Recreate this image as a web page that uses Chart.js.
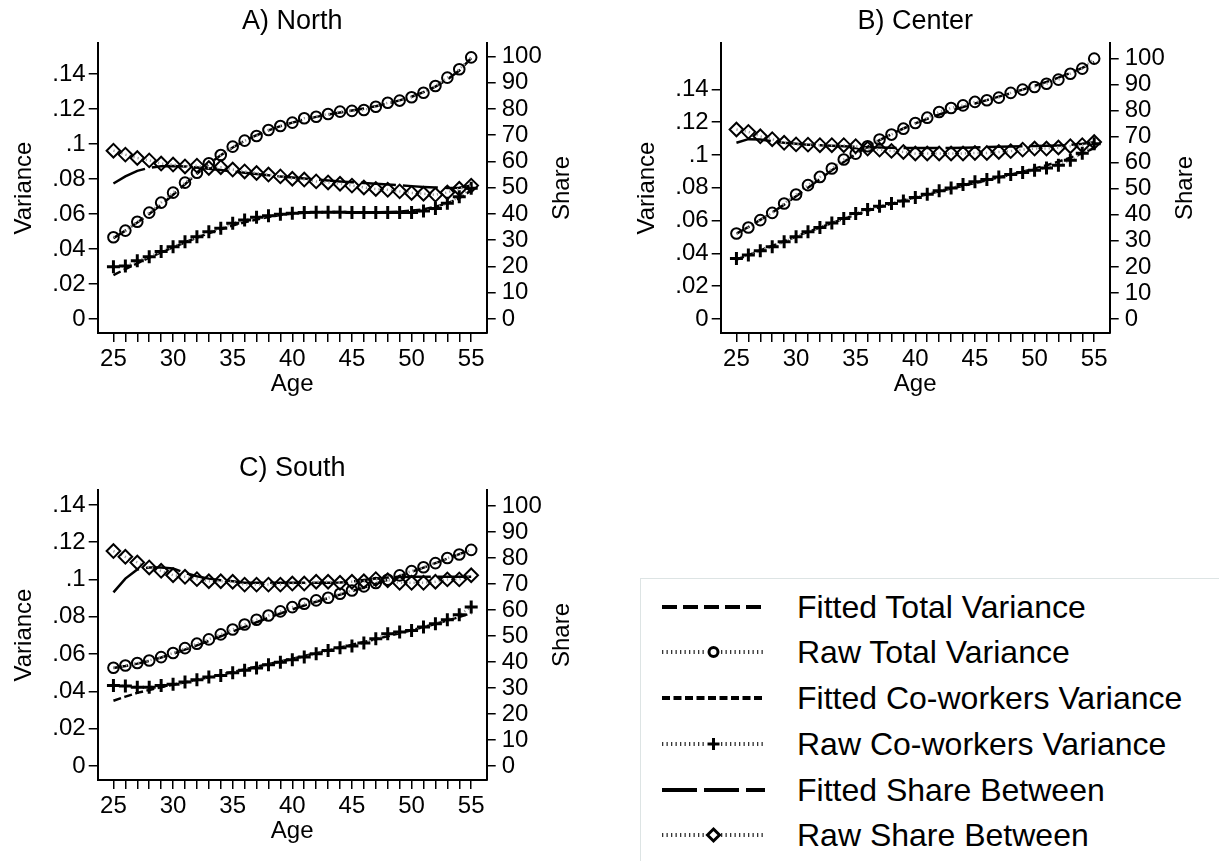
<!DOCTYPE html>
<html>
<head>
<meta charset="utf-8">
<title>Variance and share between, by age and region</title>
<script src="https://cdn.jsdelivr.net/npm/chart.js@4.4.1/dist/chart.umd.min.js"></script>
<style>
  html, body { margin: 0; padding: 0; background: #fff; }
  body { width: 1219px; height: 861px; position: relative; overflow: hidden; font-family: "Liberation Sans", Arial, sans-serif; }
  canvas.panel { position: absolute; }
  #legend { position: absolute; left: 640px; top: 578px; width: 620px; height: 320px; border: 1px solid #dde4e4; box-sizing: border-box; }
  .legend-row { position: absolute; left: 0; width: 600px; height: 40px; }
  .legend-row canvas { position: absolute; left: 21px; top: 0; }
  .legend-row span { position: absolute; left: 156px; top: 0; line-height: 40px; font-size: 32px; color: #000; white-space: nowrap; }
</style>
</head>
<body>
<canvas id="north" class="panel" width="580" height="400" style="left:0px;top:0px"></canvas>
<canvas id="center" class="panel" width="580" height="400" style="left:623px;top:0px"></canvas>
<canvas id="south" class="panel" width="580" height="400" style="left:0px;top:447px"></canvas>
<div id="legend"></div>

<script>
// x categories and tick labels
const ages = [25, 26, 27, 28, 29, 30, 31, 32, 33, 34, 35, 36, 37, 38, 39, 40,
              41, 42, 43, 44, 45, 46, 47, 48, 49, 50, 51, 52, 53, 54, 55];
const ageLabels = [25, 30, 35, 40, 45, 50, 55];
const varianceTicks = [0, 0.02, 0.04, 0.06, 0.08, 0.1, 0.12, 0.14];
const shareTicks = [0, 10, 20, 30, 40, 50, 60, 70, 80, 90, 100];

const legendLabels = ['Fitted Total Variance', 'Raw Total Variance', 'Fitted Co-workers Variance',
                      'Raw Co-workers Variance', 'Fitted Share Between', 'Raw Share Between'];

// A) North
const northRawTotal = [.0467, .0505, .0556, .0608, .0665, .0722, .0779, .0836, .0890, .0937,
                       .0985, .1019, .1046, .1080, .1103, .1122, .1147, .1156, .1171, .1185,
                       .1189, .1194, .1213, .1236, .1248, .1267, .1293, .1331, .1379, .1427, .1495];
const northFitTotal = [.0462, .0505, .0551, .0600, .0652, .0710, .0770, .0830, .0886, .0936,
                       .0980, .1018, .1050, .1078, .1102, .1122, .1140, .1155, .1168, .1180,
                       .1191, .1203, .1216, .1231, .1249, .1270, .1296, .1328, .1368, .1420, .1490];
const northRawCow = [.0299, .0303, .0333, .0356, .0385, .0413, .0442, .0470, .0499, .0518,
                     .0547, .0566, .0581, .0590, .0598, .0604, .0608, .0610, .0610, .0610,
                     .0608, .0608, .0608, .0608, .0608, .0608, .0617, .0632, .0661, .0699, .0747];
const northFitCow = [.0251, .0285, .0318, .0350, .0381, .0410, .0438, .0465, .0490, .0513,
                     .0534, .0553, .0569, .0583, .0594, .0602, .0607, .0610, .0611, .0611,
                     .0610, .0610, .0610, .0611, .0614, .0619, .0627, .0641, .0661, .0690, .0735];
const northRawShare = [64.1, 62.6, 61.3, 60.4, 59.2, 58.8, 58.1, 58.4, 57.5, 57.8,
                       56.9, 56.2, 55.6, 55.0, 54.3, 53.4, 53.1, 52.4, 52.0, 51.5,
                       50.8, 50.1, 49.5, 49.2, 48.6, 48.0, 47.7, 47.3, 48.2, 49.6, 50.8];
const northFitShare = [51.6, 54.3, 56.4, 57.6, 58.2, 58.3, 58.1, 57.7, 57.2, 56.7,
                       56.2, 55.7, 55.2, 54.7, 54.3, 53.9, 53.5, 53.1, 52.7, 52.4,
                       52.1, 51.8, 51.5, 51.2, 50.9, 50.6, 50.3, 50.1, 49.9, 50.0, 50.8];

// B) Center
const centerRawTotal = [.0521, .0558, .0603, .0647, .0704, .0759, .0816, .0866, .0917, .0972,
                        .1008, .1053, .1094, .1124, .1160, .1195, .1227, .1262, .1286, .1302,
                        .1323, .1333, .1349, .1378, .1398, .1414, .1434, .1459, .1495, .1526, .1587];
const centerFitTotal = [.0520, .0561, .0604, .0649, .0697, .0748, .0800, .0853, .0906, .0957,
                        .1005, .1049, .1090, .1127, .1161, .1192, .1220, .1246, .1270, .1292,
                        .1313, .1334, .1355, .1376, .1398, .1421, .1445, .1471, .1499, .1530, .1565];
const centerRawCow = [.0369, .0390, .0416, .0440, .0471, .0501, .0532, .0558, .0586, .0613,
                      .0643, .0667, .0688, .0704, .0720, .0741, .0761, .0781, .0799, .0820,
                      .0836, .0850, .0866, .0881, .0893, .0907, .0921, .0937, .0968, .1010, .1068];
const centerFitCow = [.0362, .0390, .0418, .0446, .0474, .0503, .0531, .0558, .0585, .0611,
                      .0636, .0660, .0682, .0703, .0723, .0742, .0760, .0778, .0795, .0812,
                      .0829, .0846, .0863, .0880, .0898, .0917, .0937, .0959, .0983, .1010, .1042];
const centerRawShare = [72.7, 71.8, 70.1, 69.0, 67.6, 67.0, 66.9, 66.7, 66.7, 66.7,
                        66.3, 65.4, 65.0, 64.5, 64.1, 63.5, 63.5, 63.5, 63.5, 63.5,
                        63.7, 63.7, 64.1, 64.4, 65.0, 65.4, 65.4, 65.8, 66.3, 66.7, 67.9];
const centerFitShare = [67.6, 69.0, 68.9, 68.2, 67.6, 67.2, 66.9, 66.7, 66.5, 66.3,
                        66.1, 65.9, 65.8, 65.7, 65.6, 65.6, 65.6, 65.6, 65.6, 65.7,
                        65.8, 66.0, 66.1, 66.2, 66.3, 66.4, 66.5, 66.6, 66.8, 67.2, 67.8];

// C) South
const southRawTotal = [.0527, .0539, .0552, .0566, .0584, .0606, .0632, .0656, .0679, .0706,
                       .0732, .0759, .0784, .0807, .0829, .0852, .0870, .0888, .0902, .0924,
                       .0941, .0963, .0981, .0999, .1022, .1045, .1066, .1088, .1115, .1134, .1159];
const southFitTotal = [.0525, .0536, .0549, .0564, .0582, .0602, .0624, .0647, .0671, .0696,
                       .0721, .0746, .0771, .0795, .0818, .0840, .0861, .0881, .0900, .0919,
                       .0938, .0957, .0977, .0998, .1019, .1041, .1064, .1088, .1112, .1136, .1160];
const southRawCow = [.0432, .0429, .0423, .0423, .0432, .0438, .0450, .0463, .0477, .0486,
                     .0500, .0513, .0525, .0543, .0557, .0570, .0584, .0602, .0620, .0634,
                     .0643, .0659, .0682, .0709, .0718, .0727, .0745, .0763, .0784, .0811, .0852];
const southFitCow = [.0350, .0372, .0392, .0408, .0422, .0436, .0449, .0462, .0476, .0490,
                     .0504, .0518, .0532, .0546, .0561, .0575, .0590, .0605, .0620, .0635,
                     .0650, .0665, .0680, .0696, .0712, .0728, .0745, .0762, .0780, .0799, .0820];
const southRawShare = [82.7, 80.5, 78.3, 76.4, 75.1, 73.4, 72.8, 71.9, 71.1, 71.1,
                       70.9, 69.8, 69.8, 69.8, 69.8, 70.2, 70.2, 70.9, 70.9, 70.5,
                       70.9, 71.1, 71.9, 71.5, 70.5, 70.5, 70.5, 70.9, 71.8, 71.8, 73.4];
const southFitShare = [66.8, 72.1, 75.6, 76.4, 76.4, 76.0, 74.3, 73.0, 72.1, 71.5,
                       71.1, 70.5, 70.5, 70.5, 70.5, 70.5, 70.5, 70.5, 70.5, 70.6,
                       71.0, 71.6, 72.1, 72.5, 72.7, 72.8, 72.8, 72.8, 72.8, 72.8, 72.8];

Chart.defaults.font.family = '"Liberation Sans", Arial, sans-serif';
Chart.defaults.color = '#000';

// Series styles, shared by the panels and the legend
const seriesStyles = [
    { dash: [15, 6] },                                   // fitted total
    { marker: 'circle', radius: 5.3, markerWidth: 2 },    // raw total
    { dash: [8, 3.5] },                                  // fitted co-workers
    { marker: 'cross', radius: 6.5, markerWidth: 3 },     // raw co-workers
    { dash: [35, 7] },                                   // fitted share
    { marker: 'rectRot', radius: 6.8, markerWidth: 2 }    // raw share
];

function datasetFor(i, values, axis) {
    const st = seriesStyles[i];
    const ds = {
        label: legendLabels[i],
        data: ages.map((a, k) => ({ x: a, y: values[k] })),
        yAxisID: axis,
        order: 6 - i,
        fill: false,
        tension: 0
    };
    if (st.marker) {
        Object.assign(ds, {
            borderColor: '#9a9a9a',
            borderWidth: 2.5,
            borderDash: [1.2, 3],
            pointStyle: st.marker,
            pointRadius: st.radius,
            pointBorderColor: '#000',
            pointBackgroundColor: 'rgba(255,255,255,0)',
            pointBorderWidth: st.markerWidth
        });
    } else {
        Object.assign(ds, {
            borderColor: '#000',
            borderWidth: 2.5,
            borderDash: st.dash,
            pointRadius: 0
        });
    }
    return ds;
}

// Right axis title, drawn reading upwards like the left one
const shareTitlePlugin = {
    id: 'shareTitle',
    afterDraw(chart, args, opts) {
        const { ctx, chartArea } = chart;
        ctx.save();
        ctx.fillStyle = '#000';
        ctx.font = '24px "Liberation Sans", Arial, sans-serif';
        ctx.textAlign = 'center';
        ctx.textBaseline = 'middle';
        ctx.translate(opts.x, (chartArea.top + chartArea.bottom) / 2);
        ctx.rotate(-Math.PI / 2);
        ctx.fillText(opts.text, 0, 0);
        ctx.restore();
    }
};

function varLabel(v) {
    if (v === 0) return '0';
    return String(Number(v.toFixed(2))).replace(/^0/, '');
}

function buildPanel(id, title, series, varRange, shareRange) {
    const datasets = [
        datasetFor(0, series[0], 'y'),
        datasetFor(1, series[1], 'y'),
        datasetFor(2, series[2], 'y'),
        datasetFor(3, series[3], 'y'),
        datasetFor(4, series[4], 'y1'),
        datasetFor(5, series[5], 'y1')
    ];

    const axisGrid = { drawOnChartArea: false, drawTicks: true, tickLength: 9, color: '#000', lineWidth: 1.5 };
    const axisBorder = { display: true, color: '#000', width: 2 };

    return new Chart(document.getElementById(id), {
        type: 'line',
        data: { datasets: datasets },
        options: {
            responsive: false,
            animation: false,
            devicePixelRatio: 1,
            layout: { padding: 0 },
            plugins: {
                legend: { display: false },
                tooltip: { enabled: false },
                title: {
                    display: true,
                    text: title,
                    fullSize: false,
                    color: '#000',
                    font: { size: 27, weight: 'normal' },
                    padding: { top: 5, bottom: 5.6 }
                },
                shareTitle: { text: 'Share', x: 562 }
            },
            scales: {
                x: {
                    type: 'linear',
                    min: 23.68,
                    max: 56.3,
                    afterBuildTicks: s => { s.ticks = ages.map(v => ({ value: v })); },
                    afterFit: s => { s.height = 67; },
                    border: axisBorder,
                    grid: axisGrid,
                    ticks: {
                        autoSkip: false,
                        maxRotation: 0,
                        padding: 3,
                        font: { size: 24 },
                        callback: v => ageLabels.includes(v) ? String(v) : ''
                    },
                    title: { display: true, text: 'Age', font: { size: 24 }, padding: { top: 0, bottom: 1 } }
                },
                y: {
                    type: 'linear',
                    position: 'left',
                    min: varRange[0],
                    max: varRange[1],
                    afterBuildTicks: s => { s.ticks = varianceTicks.map(v => ({ value: v })); },
                    afterFit: s => { s.width = 97.7; },
                    border: axisBorder,
                    grid: axisGrid,
                    ticks: { autoSkip: false, padding: 3, font: { size: 24 }, callback: v => varLabel(v) },
                    title: { display: true, text: 'Variance', font: { size: 24 }, padding: { top: 9.6, bottom: 0 } }
                },
                y1: {
                    type: 'linear',
                    position: 'right',
                    min: shareRange[0],
                    max: shareRange[1],
                    afterBuildTicks: s => { s.ticks = shareTicks.map(v => ({ value: v })); },
                    afterFit: s => { s.width = 93.3; },
                    border: axisBorder,
                    grid: axisGrid,
                    ticks: { autoSkip: false, padding: 6, font: { size: 24 }, callback: v => String(v) }
                }
            }
        },
        plugins: [shareTitlePlugin]
    });
}

buildPanel('north', 'A) North',
    [northFitTotal, northRawTotal, northFitCow, northRawCow, northFitShare, northRawShare],
    [-0.0080, 0.1577], [-5.33, 105.1]);
buildPanel('center', 'B) Center',
    [centerFitTotal, centerRawTotal, centerFitCow, centerRawCow, centerFitShare, centerRawShare],
    [-0.0085, 0.1682], [-5.37, 105.9]);
buildPanel('south', 'C) South',
    [southFitTotal, southRawTotal, southFitCow, southRawCow, southFitShare, southRawShare],
    [-0.0075, 0.1480], [-5.38, 106.2]);

// Legend box (separate, bottom right)
function drawMarker(ctx, kind, x, y, r, w) {
    ctx.setLineDash([]);
    ctx.lineWidth = w;
    ctx.strokeStyle = '#000';
    ctx.beginPath();
    if (kind === 'circle') {
        ctx.arc(x, y, r, 0, Math.PI * 2);
    } else if (kind === 'cross') {
        ctx.moveTo(x - r, y); ctx.lineTo(x + r, y);
        ctx.moveTo(x, y - r); ctx.lineTo(x, y + r);
    } else {
        ctx.moveTo(x, y - r); ctx.lineTo(x + r, y);
        ctx.lineTo(x, y + r); ctx.lineTo(x - r, y); ctx.closePath();
    }
    ctx.stroke();
}

const legendBox = document.getElementById('legend');
legendLabels.forEach((label, i) => {
    const row = document.createElement('div');
    row.className = 'legend-row';
    row.style.top = (28.7 + 45.7 * i - 1 - 20) + 'px';

    const c = document.createElement('canvas');
    c.width = 110;
    c.height = 40;
    const ctx = c.getContext('2d');
    const st = seriesStyles[i];
    const cy = 20;
    if (st.marker) {
        ctx.strokeStyle = '#333';
        ctx.lineWidth = 4;
        ctx.setLineDash([1.3, 3.2]);
        ctx.beginPath(); ctx.moveTo(0, cy); ctx.lineTo(44, cy); ctx.stroke();
        ctx.beginPath(); ctx.moveTo(59, cy); ctx.lineTo(103, cy); ctx.stroke();
        const r = st.marker === 'circle' ? 4.5 : 6;
        drawMarker(ctx, st.marker, 51.5, cy, r, 3);
    } else {
        ctx.strokeStyle = '#000';
        ctx.lineWidth = 4;
        ctx.setLineDash(st.dash);
        ctx.beginPath(); ctx.moveTo(0, cy); ctx.lineTo(103, cy); ctx.stroke();
    }
    row.appendChild(c);

    const span = document.createElement('span');
    span.textContent = label;
    row.appendChild(span);
    legendBox.appendChild(row);
});
</script>
</body>
</html>
